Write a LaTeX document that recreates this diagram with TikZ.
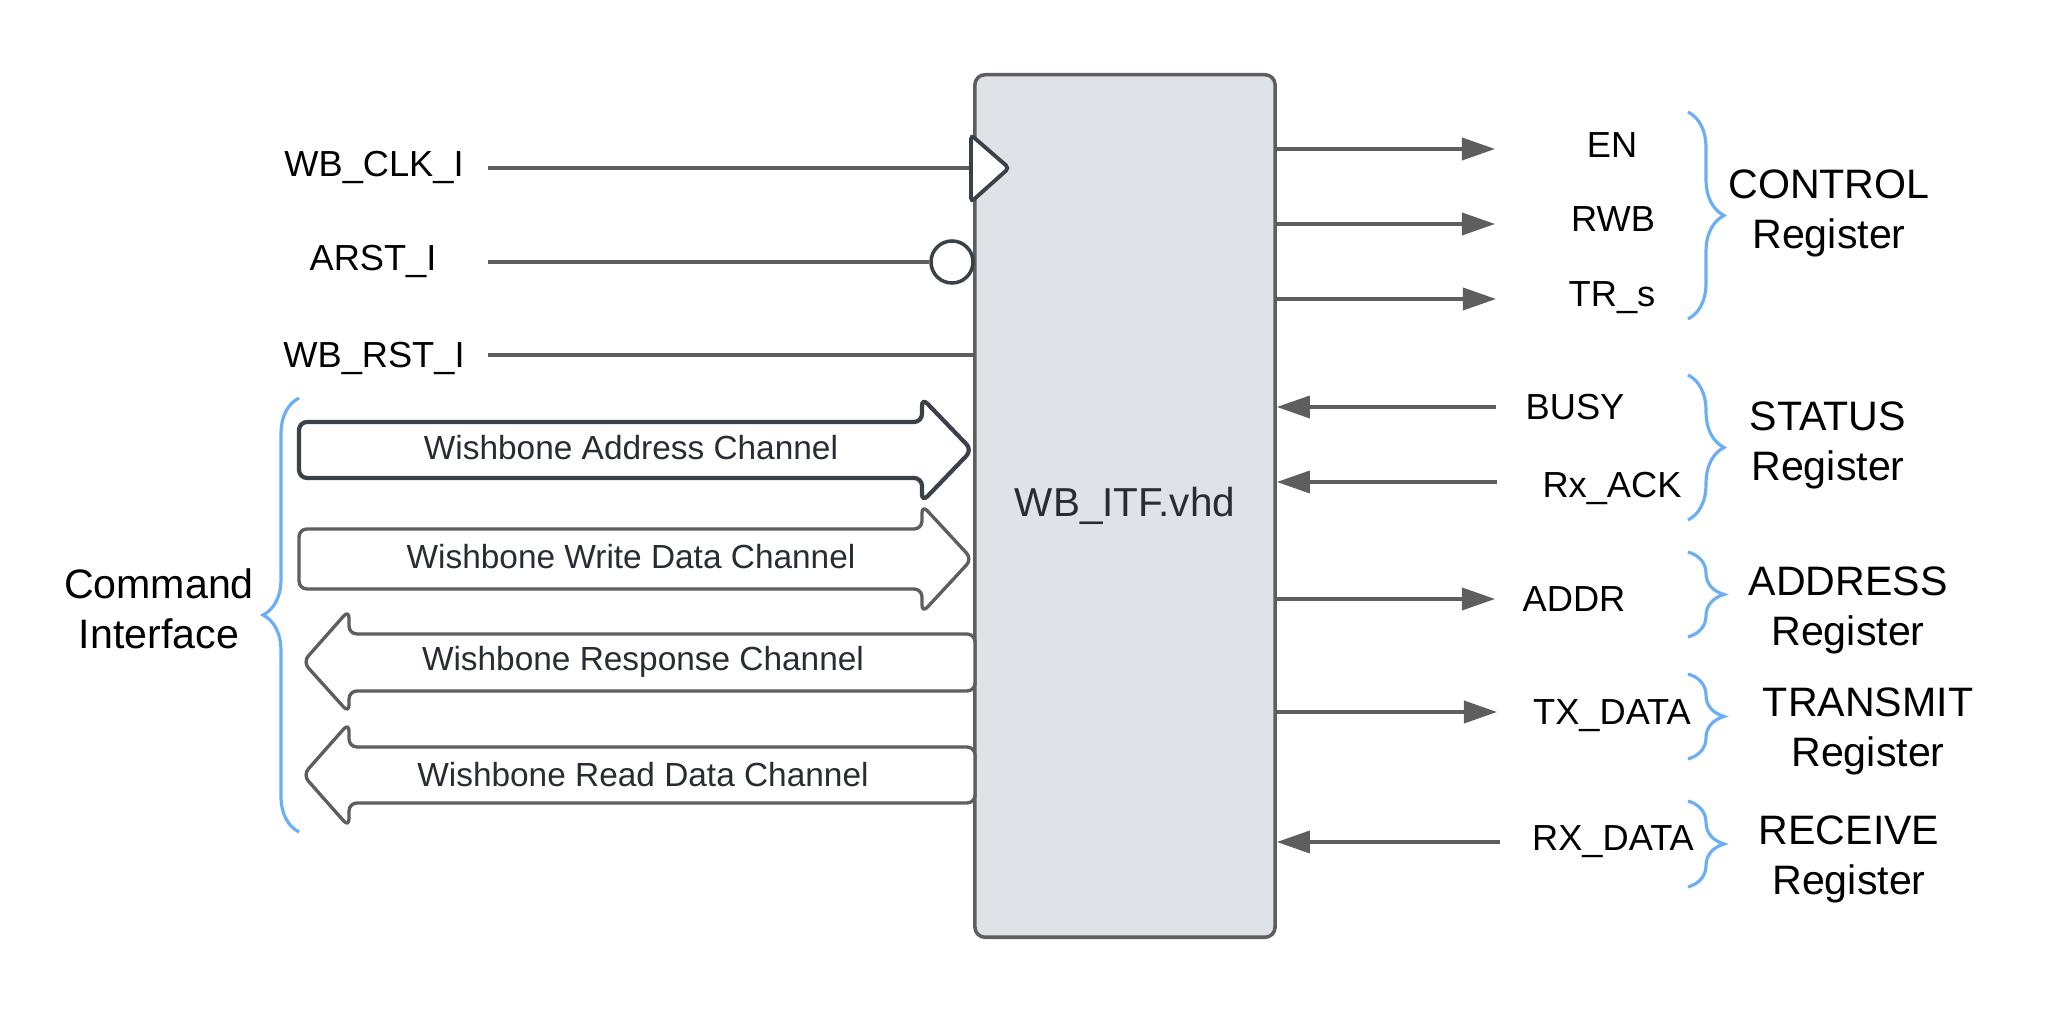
\documentclass[tikz,border=0pt]{standalone}
\usepackage{fontspec}
\setmainfont{Liberation Sans}
\usetikzlibrary{arrows.meta,decorations.pathreplacing}
\definecolor{wire}{HTML}{5E5E5E}
\definecolor{edgeink}{HTML}{3B4149}
\definecolor{blockfill}{HTML}{DFE3E8}
\definecolor{bracecol}{HTML}{6AAEF5}
\definecolor{inktext}{HTML}{282C33}

\begin{document}
\begin{tikzpicture}[x=0.01cm, y=-0.01cm,
    sig/.style={draw=wire, line width=0.95pt},
    sigout/.style={sig, -{Triangle[length=9.4pt,width=6.3pt]}},
    port/.style={font=\fontsize{10.3}{12}\selectfont, text height=0.72em, text depth=0pt, inner sep=0pt},
    group/.style={font=\fontsize{11.7}{14.2}\selectfont, align=center, text height=0.72em, text depth=0pt, inner sep=0pt},
    regbrace/.style={draw=bracecol, line width=0.9pt, decorate, decoration={brace, amplitude=0.36cm}},
    chan/.style={draw=wire, fill=white, line width=0.95pt, rounded corners=0.08cm},
    chantext/.style={font=\fontsize{9.5}{11}\selectfont, text=inktext}]
    \useasboundingbox (0,0) rectangle (2063,1013);

    % Interface block
    \node[draw=wire, fill=blockfill, line width=1pt, rounded corners=0.1cm, minimum width=3cm, minimum height=8.62cm, inner sep=0pt, text=inktext, font=\fontsize{11.5}{13}\selectfont] (itf) at (1125,506) {WB\_ITF.vhd};

    % Clock, reset inputs
    \node[port] (clk) at (374,164) {WB\_CLK\_I};
    \node[port] (arst) at (373,258) {ARST\_I};
    \node[port] (rst) at (374,355) {WB\_RST\_I};
    \coordinate (clk-in) at (488,168);
    \coordinate (arst-in) at (488,262);
    \coordinate (rst-in) at (488,355);
    \node[circle, draw=edgeink, fill=white, line width=1pt, minimum size=0.42cm, inner sep=0pt] (rstbub) at (952,262) {};
    \draw[sig] (clk-in) -- (itf.west |- clk-in);
    \draw[sig] (arst-in) -- (rstbub.west);
    \draw[sig] (rst-in) -- (itf.west |- rst-in);
    \draw[draw=edgeink, fill=white, line width=1.1pt, rounded corners=0.04cm] (971,135) -- (1009,168) -- (971,202) -- cycle;

    % Wishbone channels
    \draw[chan, draw=edgeink, line width=1.2pt] (600,422) -- (299,422) -- (299,478) -- (922,478) -- (922,502) -- (972,450) -- (922,398) -- (922,422) -- cycle;
    \node[chantext] (adrch) at (631,448) {Wishbone Address Channel};
    \draw[chan] (600,529) -- (299,529) -- (299,589) -- (922,589) -- (922,613) -- (972,559) -- (922,505) -- (922,529) -- cycle;
    \node[chantext] (wrch) at (631,557) {Wishbone Write Data Channel};
    \draw[chan] (660,634) -- (349,634) -- (349,610) -- (303,662) -- (349,713) -- (349,691) -- (975,691) -- (975,634) -- cycle;
    \node[chantext] (rspch) at (643,662) {Wishbone Response Channel};
    \draw[chan] (660,747) -- (349,747) -- (349,723) -- (303,775) -- (349,827) -- (349,803) -- (975,803) -- (975,747) -- cycle;
    \node[chantext] (rdch) at (643,775) {Wishbone Read Data Channel};

    \draw[regbrace] (299,832) -- (299,398);
    \node[group] (cmd) at (159,636) {Command\\Interface};

    % Register signals
    \node[port] (en) at (1612,145) {EN};
    \node[port] (rwb) at (1613,219) {RWB};
    \node[port] (trs) at (1612,294) {TR\_s};
    \node[port] (busy) at (1575,407) {BUSY};
    \node[port] (rxack) at (1612,485) {Rx\_ACK};
    \node[port] (addr) at (1574,599) {ADDR};
    \node[port] (txd) at (1612,712) {TX\_DATA};
    \node[port] (rxd) at (1613,838) {RX\_DATA};
    \coordinate (en-p) at (1495,149);
    \coordinate (rwb-p) at (1495,224);
    \coordinate (trs-p) at (1496,299);
    \coordinate (busy-p) at (1496,407);
    \coordinate (rxack-p) at (1497,482);
    \coordinate (addr-p) at (1495,599);
    \coordinate (txd-p) at (1497,712);
    \coordinate (rxd-p) at (1500,842);
    \draw[sigout] (itf.east |- en-p) -- (en-p);
    \draw[sigout] (itf.east |- rwb-p) -- (rwb-p);
    \draw[sigout] (itf.east |- trs-p) -- (trs-p);
    \draw[sigout] (busy-p) -- (itf.east |- busy-p);
    \draw[sigout] (rxack-p) -- (itf.east |- rxack-p);
    \draw[sigout] (itf.east |- addr-p) -- (addr-p);
    \draw[sigout] (itf.east |- txd-p) -- (txd-p);
    \draw[sigout] (rxd-p) -- (itf.east |- rxd-p);

    % Register groups
    \draw[regbrace] (1688,112) -- (1688,319);
    \draw[regbrace] (1688,375) -- (1688,520);
    \draw[regbrace] (1688,552) -- (1688,637);
    \draw[regbrace] (1688,674) -- (1688,759);
    \draw[regbrace] (1688,801) -- (1688,887);
    \node[group] (ctrlreg) at (1829,236) {CONTROL\\Register};
    \node[group] (statreg) at (1828,468) {STATUS\\Register};
    \node[group] (addrreg) at (1848,633) {ADDRESS\\Register};
    \node[group] (txreg) at (1868,754) {TRANSMIT\\Register};
    \node[group] (rxreg) at (1849,882) {RECEIVE\\Register};
\end{tikzpicture}
\end{document}
